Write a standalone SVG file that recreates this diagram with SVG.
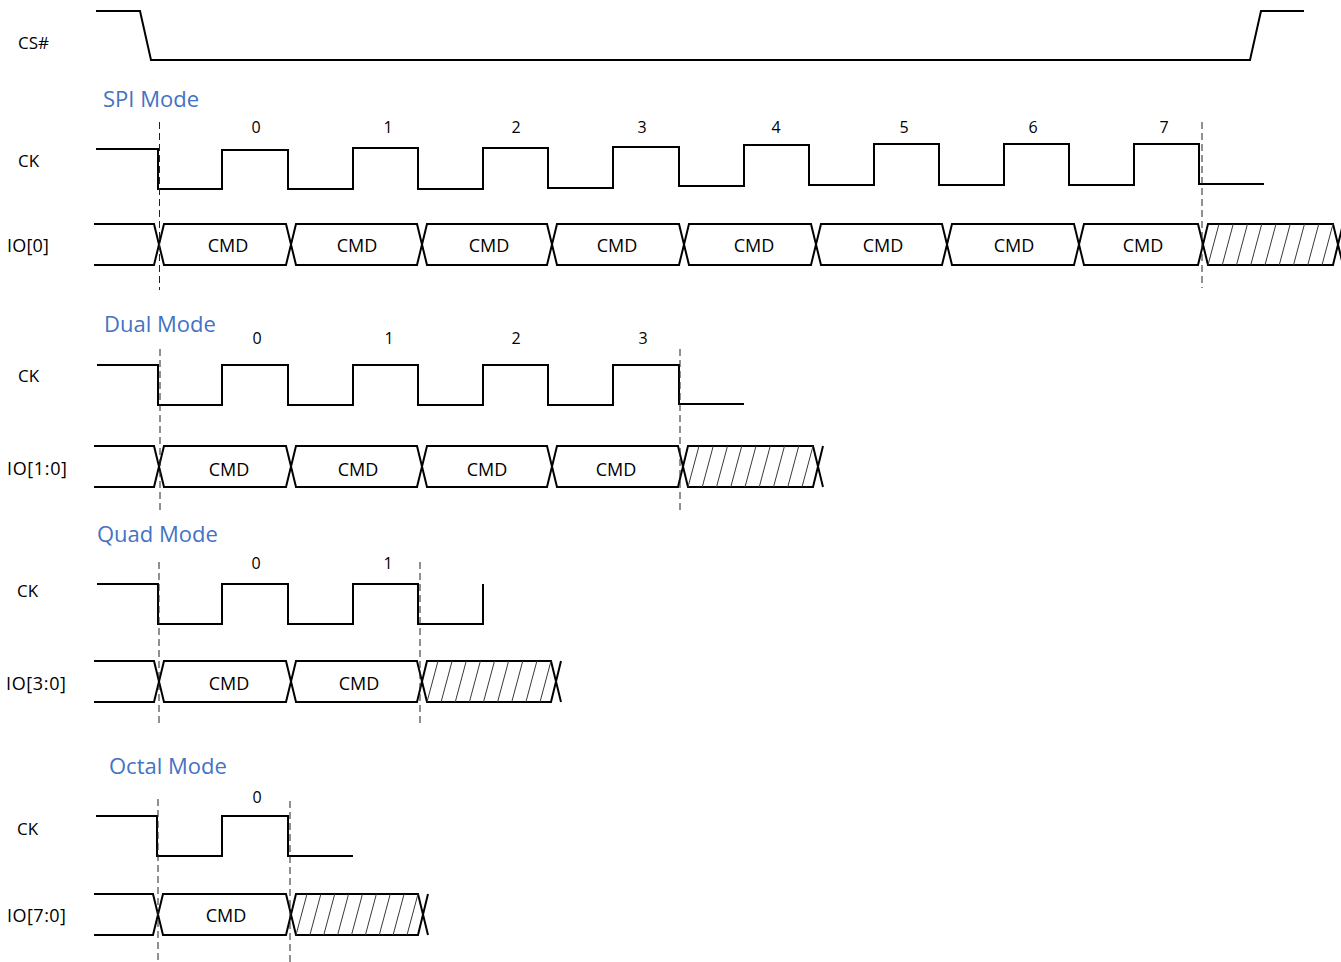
<svg xmlns="http://www.w3.org/2000/svg" width="1341" height="962" viewBox="0 0 1341 962">
<style>
.bg{fill:#ffffff}
.sig{fill:none;stroke:#000;stroke-width:2;stroke-linejoin:miter}
.hatch{stroke:#3a3a3a;stroke-width:1}
.dash{stroke:#222;stroke-width:1;stroke-dasharray:7,4}
.lbl{font-family:"Open Sans","Liberation Sans",sans-serif;font-size:17px;fill:#000}
.io{font-size:18px}
.num{font-family:"Open Sans","Liberation Sans",sans-serif;font-size:16px;fill:#000;text-anchor:middle}
.cmd{font-family:"Open Sans","Liberation Sans",sans-serif;font-size:18px;fill:#000;text-anchor:middle}
.title{font-family:"Open Sans","Liberation Sans",sans-serif;font-size:22px;fill:#4472C4}
</style>
<rect class="bg" x="0" y="0" width="1341" height="962"/>

<g id="cs">
<text class="lbl" x="18" y="49">CS#</text>
<path class="sig" d="M96,11 H140 L151,60 H1250 L1261,11 H1304"/>
</g>

<g id="spi-mode">
<text class="title" x="103" y="107">SPI Mode</text>
<g id="spi-ck">
<text class="lbl" x="18" y="167">CK</text>
<path class="sig" d="M96,149 H158 V189 H222 V150 H288 V189 H353 V148 H418 V189 H483 V148 H548 V188 H613 V147 H679 V186 H744 V145 H809 V185 H874 V144 H939 V185 H1004 V144 H1069 V185 H1134 V144 H1199 V184 H1264"/>
<text class="num" x="256" y="133">0</text>
<text class="num" x="388" y="133">1</text>
<text class="num" x="516" y="133">2</text>
<text class="num" x="642" y="133">3</text>
<text class="num" x="776" y="133">4</text>
<text class="num" x="904" y="133">5</text>
<text class="num" x="1033" y="133">6</text>
<text class="num" x="1164" y="133">7</text>
</g>
<g id="spi-io">
<text class="lbl io" x="7" y="252" textLength="42" lengthAdjust="spacing">IO[0]</text>
<path class="sig" d="M94,224 H154 L164,265 H286 L296,224 H417 L427,265 H547 L557,224 H679 L689,265 H811 L821,224 H942 L952,265 H1074 L1084,224 H1198 L1208,265 H1333 L1343,224"/>
<path class="sig" d="M94,265 H154 L164,224 H286 L296,265 H417 L427,224 H547 L557,265 H679 L689,224 H811 L821,265 H942 L952,224 H1074 L1084,265 H1198 L1208,224 H1333 L1343,265"/>
<g class="hatch">
<line x1="1208" y1="265" x2="1219" y2="224"/>
<line x1="1222.25" y1="265" x2="1233.25" y2="224"/>
<line x1="1236.5" y1="265" x2="1247.5" y2="224"/>
<line x1="1250.75" y1="265" x2="1261.75" y2="224"/>
<line x1="1265" y1="265" x2="1276" y2="224"/>
<line x1="1279.25" y1="265" x2="1290.25" y2="224"/>
<line x1="1293.5" y1="265" x2="1304.5" y2="224"/>
<line x1="1307.75" y1="265" x2="1318.75" y2="224"/>
<line x1="1322" y1="265" x2="1333" y2="224"/>
</g>
<text class="cmd" x="228" y="252">CMD</text>
<text class="cmd" x="357" y="252">CMD</text>
<text class="cmd" x="489" y="252">CMD</text>
<text class="cmd" x="617" y="252">CMD</text>
<text class="cmd" x="754" y="252">CMD</text>
<text class="cmd" x="883" y="252">CMD</text>
<text class="cmd" x="1014" y="252">CMD</text>
<text class="cmd" x="1143" y="252">CMD</text>
</g>
</g>

<g id="dual-mode">
<text class="title" x="104" y="332">Dual Mode</text>
<g id="dual-ck">
<text class="lbl" x="18" y="382">CK</text>
<path class="sig" d="M97,365 H158 V405 H222 V365 H288 V405 H353 V365 H418 V405 H483 V365 H548 V405 H613 V365 H679 V404 H744"/>
<text class="num" x="257" y="344">0</text>
<text class="num" x="389" y="344">1</text>
<text class="num" x="516" y="344">2</text>
<text class="num" x="643" y="344">3</text>
</g>
<g id="dual-io">
<text class="lbl io" x="7" y="475" textLength="60" lengthAdjust="spacing">IO[1:0]</text>
<path class="sig" d="M94,446 H154 L164,487 H286 L296,446 H417 L427,487 H547 L557,446 H678 L688,487 H813 L823,446"/>
<path class="sig" d="M94,487 H154 L164,446 H286 L296,487 H417 L427,446 H547 L557,487 H678 L688,446 H813 L823,487"/>
<g class="hatch">
<line x1="688" y1="487" x2="699" y2="446"/>
<line x1="702.25" y1="487" x2="713.25" y2="446"/>
<line x1="716.5" y1="487" x2="727.5" y2="446"/>
<line x1="730.75" y1="487" x2="741.75" y2="446"/>
<line x1="745" y1="487" x2="756" y2="446"/>
<line x1="759.25" y1="487" x2="770.25" y2="446"/>
<line x1="773.5" y1="487" x2="784.5" y2="446"/>
<line x1="787.75" y1="487" x2="798.75" y2="446"/>
<line x1="802" y1="487" x2="813" y2="446"/>
</g>
<text class="cmd" x="229" y="476">CMD</text>
<text class="cmd" x="358" y="476">CMD</text>
<text class="cmd" x="487" y="476">CMD</text>
<text class="cmd" x="616" y="476">CMD</text>
</g>
</g>

<g id="quad-mode">
<text class="title" x="97" y="542">Quad Mode</text>
<g id="quad-ck">
<text class="lbl" x="17" y="597">CK</text>
<path class="sig" d="M97,584 H158 V624 H222 V584 H288 V624 H353 V584 H418 V624 H483 V584"/>
<text class="num" x="256" y="569">0</text>
<text class="num" x="388" y="569">1</text>
</g>
<g id="quad-io">
<text class="lbl io" x="6" y="690" textLength="60" lengthAdjust="spacing">IO[3:0]</text>
<path class="sig" d="M94,661 H154 L164,702 H286 L296,661 H417 L427,702 H551 L561,661"/>
<path class="sig" d="M94,702 H154 L164,661 H286 L296,702 H417 L427,661 H551 L561,702"/>
<g class="hatch">
<line x1="427" y1="702" x2="438" y2="661"/>
<line x1="441.1" y1="702" x2="452.1" y2="661"/>
<line x1="455.25" y1="702" x2="466.25" y2="661"/>
<line x1="469.4" y1="702" x2="480.4" y2="661"/>
<line x1="483.5" y1="702" x2="494.5" y2="661"/>
<line x1="497.6" y1="702" x2="508.6" y2="661"/>
<line x1="511.75" y1="702" x2="522.75" y2="661"/>
<line x1="525.9" y1="702" x2="536.9" y2="661"/>
<line x1="540" y1="702" x2="551" y2="661"/>
</g>
<text class="cmd" x="229" y="690">CMD</text>
<text class="cmd" x="359" y="690">CMD</text>
</g>
</g>

<g id="octal-mode">
<text class="title" x="109" y="774">Octal Mode</text>
<g id="octal-ck">
<text class="lbl" x="17" y="835">CK</text>
<path class="sig" d="M96,816 H157 V856 H222 V816 H288 V856 H353"/>
<text class="num" x="257" y="803">0</text>
</g>
<g id="octal-io">
<text class="lbl io" x="7" y="922" textLength="59" lengthAdjust="spacing">IO[7:0]</text>
<path class="sig" d="M94,894 H153 L163,935 H286 L296,894 H418 L428,935"/>
<path class="sig" d="M94,935 H153 L163,894 H286 L296,935 H418 L428,894"/>
<g class="hatch">
<line x1="296" y1="935" x2="307" y2="894"/>
<line x1="309.9" y1="935" x2="320.9" y2="894"/>
<line x1="323.75" y1="935" x2="334.75" y2="894"/>
<line x1="337.6" y1="935" x2="348.6" y2="894"/>
<line x1="351.5" y1="935" x2="362.5" y2="894"/>
<line x1="365.4" y1="935" x2="376.4" y2="894"/>
<line x1="379.25" y1="935" x2="390.25" y2="894"/>
<line x1="393.1" y1="935" x2="404.1" y2="894"/>
<line x1="407" y1="935" x2="418" y2="894"/>
</g>
<text class="cmd" x="226" y="922">CMD</text>
</g>
</g>

<g id="connectors">
<line class="dash" x1="159.5" y1="122" x2="159.5" y2="290"/>
<line class="dash" x1="1202" y1="122" x2="1202" y2="288"/>
<line class="dash" x1="160" y1="349" x2="160" y2="513"/>
<line class="dash" x1="680" y1="349" x2="680" y2="513"/>
<line class="dash" x1="159" y1="562" x2="159" y2="726"/>
<line class="dash" x1="420" y1="562" x2="420" y2="727"/>
<line class="dash" x1="158" y1="799" x2="158" y2="962"/>
<line class="dash" x1="290" y1="801" x2="290" y2="962"/>
</g>
</svg>
